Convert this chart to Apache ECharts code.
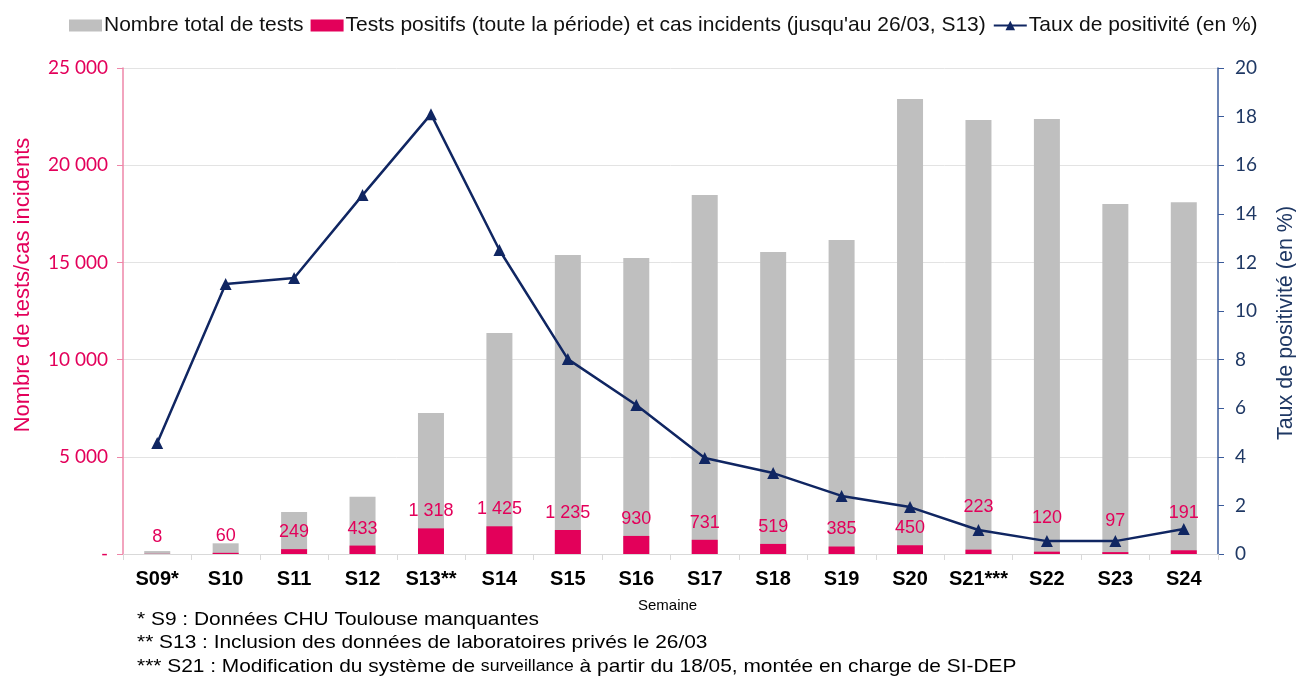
<!DOCTYPE html>
<html>
<head>
<meta charset="utf-8">
<script src="https://cdn.jsdelivr.net/npm/echarts@6/dist/echarts.min.js"></script>
<style>
html,body{margin:0;padding:0;background:#fff;}
#chart{width:1296px;height:677px;}
</style>
</head>
<body>
<div id="chart"></div>
<script>
const categories = ['S09*','S10','S11','S12','S13**','S14','S15','S16','S17','S18','S19','S20','S21***','S22','S23','S24'];
const totalTests = [150,550,2160,2950,7250,11370,15380,15230,18470,15540,16150,23400,22330,22380,18000,18100];
const positiveTests = [8,60,249,433,1318,1425,1235,930,731,519,385,450,223,120,97,191];
const positivityRate = [4.57,11.11,11.36,14.77,18.1,12.51,8.02,6.13,3.95,3.33,2.39,1.93,0.99,0.53,0.53,1.03];
const footnotes = [
  '* S9 : Données CHU Toulouse manquantes',
  '** S13 : Inclusion des données de laboratoires privés le 26/03',
  '*** S21 : Modification du système de {s|surveillance} à partir du 18/05, montée en charge de SI-DEP'
];

const PINK = '#E3005A';
const GRAY = '#BFBFBF';
const NAVY = '#102662';
const FONT = 'Liberation Sans';
// extra label lift for crowded points (style only)
const labelLift = {12: 26, 13: 17, 14: 14, 15: 20};

function fmt(v){
  if (v === 0) return '-';
  return String(v).replace(/\B(?=(\d{3})+(?!\d))/g, ' ');
}

const chart = echarts.init(document.getElementById('chart'), null, {renderer:'canvas'});
chart.setOption({
  animation:false,
  textStyle:{fontFamily:FONT},
  legend:{
    top:10, left:64, itemGap:7, itemWidth:33, itemHeight:12,
    textStyle:{fontSize:21, color:'#111', fontFamily:FONT, padding:[0,0,0,-3]},
    data:[
      {name:'Nombre total de tests', icon:'rect'},
      {name:"Tests positifs (toute la période) et cas incidents (jusqu'au 26/03, S13)", icon:'rect'},
      {name:'Taux de positivité (en %)'}
    ]
  },
  grid:{left:123, right:78, top:68, bottom:123, containLabel:false, outerBoundsMode:'none'},
  xAxis:{
    type:'category', data:categories,
    axisLine:{lineStyle:{color:'#D9D9D9', width:1}},
    axisTick:{show:true, length:6, lineStyle:{color:'#D9D9D9'}},
    axisLabel:{interval:0, fontSize:20, fontWeight:'bold', color:'#000', margin:15, fontFamily:FONT}
  },
  yAxis:[
    {
      type:'value', min:0, max:25000, interval:5000,
      name:'Nombre de tests/cas incidents', nameLocation:'middle', nameGap:89,
      nameTextStyle:{color:PINK, fontSize:22, fontFamily:FONT, padding:[0,0,0,52]},
      axisLine:{show:true, lineStyle:{color:'#EE86A8', width:1.5}},
      axisTick:{show:true, length:6, lineStyle:{color:'#EE86A8'}},
      axisLabel:{color:PINK, fontSize:19, margin:15, fontFamily:'Lato', formatter:fmt},
      splitLine:{show:true, lineStyle:{color:'#E3E3E3'}}
    },
    {
      type:'value', min:0, max:20, interval:2,
      name:'Taux de positivité (en %)', nameLocation:'middle', nameGap:57,
      nameTextStyle:{color:'#1F3864', fontSize:21.5, fontFamily:FONT, padding:[0,24,0,0]},
      axisLine:{show:true, lineStyle:{color:'#3A5A9A', width:1.5}},
      axisTick:{show:true, length:6, lineStyle:{color:'#3A5A9A'}},
      axisLabel:{color:'#1F3864', fontSize:19, margin:17, fontFamily:'Lato'},
      splitLine:{show:false}
    }
  ],
  series:[
    {
      name:'Nombre total de tests', type:'bar', data:totalTests,
      barWidth:26, barGap:'-100%', itemStyle:{color:GRAY}, z:2
    },
    {
      name:"Tests positifs (toute la période) et cas incidents (jusqu'au 26/03, S13)", type:'bar',
      data:positiveTests.map((v,i)=>({
        value:v,
        label: labelLift[i] ? {offset:[0,-labelLift[i]]} : undefined
      })),
      barWidth:26, itemStyle:{color:PINK}, z:3,
      label:{show:true, position:'top', distance:8, color:PINK, fontSize:18, fontFamily:FONT,
        formatter:p=>fmt(p.value)}
    },
    {
      name:'Taux de positivité (en %)', type:'line', yAxisIndex:1, data:positivityRate,
      symbol:'triangle', symbolSize:12, z:5,
      lineStyle:{color:NAVY, width:2.5}, itemStyle:{color:NAVY}
    }
  ],
  graphic:[
    {type:'text', left:638, top:598, style:{text:'Semaine', fontSize:15, fill:'#000', fontFamily:FONT}},
    {type:'text', x:137, y:610, scaleX:1.1, style:{text:footnotes[0], fontSize:19, fill:'#000', fontFamily:FONT}},
    {type:'text', x:137, y:633, scaleX:1.1, style:{text:footnotes[1], fontSize:19, fill:'#000', fontFamily:FONT}},
    {type:'text', x:137, y:657, scaleX:1.1, style:{text:footnotes[2], fontSize:19, fill:'#000', fontFamily:FONT,
      rich:{s:{fontSize:16, fontFamily:FONT, fill:'#000'}}}}
  ]
});
</script>
</body>
</html>
